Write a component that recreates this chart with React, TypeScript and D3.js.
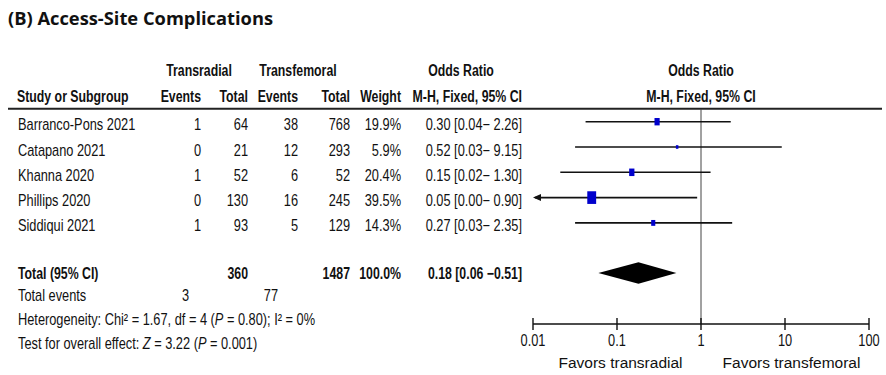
import React from "react";
import * as d3 from "d3";

const studies = ["Barranco-Pons 2021", "Catapano 2021", "Khanna 2020", "Phillips 2020", "Siddiqui 2021"];
const radialEvents = [1, 0, 1, 0, 1];
const radialTotal = [64, 21, 52, 130, 93];
const femoralEvents = [38, 12, 6, 16, 5];
const femoralTotal = [768, 293, 52, 245, 129];
const weights = [19.9, 5.9, 20.4, 39.5, 14.3];
const orValue = [0.3, 0.52, 0.15, 0.05, 0.27];
const orLower = [0.04, 0.03, 0.02, 0.0, 0.03];
const orUpper = [2.26, 9.15, 1.3, 0.9, 2.35];

const totalRadial = 360;
const totalFemoral = 1487;
const totalWeight = "100.0%";
const totalOR = [0.18, 0.06, 0.51];
const totalEventsRadial = 3;
const totalEventsFemoral = 77;

const axisTicks = [0.01, 0.1, 1, 10, 100];
const axisTickLabels = ["0.01", "0.1", "1", "10", "100"];

const FONT = "'Liberation Sans', Arial, sans-serif";
const SX = 0.8;
const SXB = 0.77;

function T(props: any) {
  const { x, y, anchor = "start", sx = SX, bold = false, size = 16, children, fill = "#111" } = props;
  return (
    <text
      transform={`translate(${x},${y}) scale(${sx},1)`}
      textAnchor={anchor}
      fontFamily={FONT}
      fontSize={size}
      fontWeight={bold ? "bold" : "normal"}
      fill={fill}
    >
      {children}
    </text>
  );
}

export default function App() {
  const W = 886, H = 375;
  const x = d3.scaleLog().domain([0.01, 100]).range([533, 869]);
  const rowY = (i: number) => 121.7 + 25.3 * i;
  const boxH = d3.scaleLinear().domain([0, 40]).range([2, 12.8]);
  const col = { e1: 201, t1: 248, e2: 298, t2: 350, w: 401, ci: 522 };
  const fmt = (v: number) => v.toFixed(2);
  const axisY = 324;
  const diamondY = 273;

  const diamond = d3.line()([
    [x(totalOR[1]), diamondY],
    [x(totalOR[0]), diamondY - 10.7],
    [x(totalOR[2]), diamondY],
    [x(totalOR[0]), diamondY + 10.7],
  ]) + "Z";

  return (
    <svg width={W} height={H} style={{ position: "absolute", left: 0, top: 0, background: "#fff" }}>
      <text x={8} y={25} fontFamily="'Open Sans', 'Noto Sans', sans-serif" fontWeight="bold" fontSize={17.5}
        textLength={265} lengthAdjust="spacingAndGlyphs" fill="#111">
        (B) Access-Site Complications
      </text>

      {/* headers */}
      <T x={199} y={76} anchor="middle" bold sx={SXB}>Transradial</T>
      <T x={298} y={76} anchor="middle" bold sx={SXB}>Transfemoral</T>
      <T x={461} y={76} anchor="middle" bold sx={SXB}>Odds Ratio</T>
      <T x={701} y={76} anchor="middle" bold sx={SXB}>Odds Ratio</T>
      <T x={17} y={102} bold sx={SXB}>Study or Subgroup</T>
      <T x={col.e1} y={102} anchor="end" bold sx={SXB}>Events</T>
      <T x={col.t1} y={102} anchor="end" bold sx={SXB}>Total</T>
      <T x={col.e2} y={102} anchor="end" bold sx={SXB}>Events</T>
      <T x={col.t2} y={102} anchor="end" bold sx={SXB}>Total</T>
      <T x={col.w} y={102} anchor="end" bold sx={SXB}>Weight</T>
      <T x={col.ci} y={102} anchor="end" bold sx={SXB}>M-H, Fixed, 95% CI</T>
      <T x={701} y={102} anchor="middle" bold sx={SXB}>M-H, Fixed, 95% CI</T>
      <line x1={8} x2={882} y1={108.7} y2={108.7} stroke="#222" strokeWidth={2} />

      {/* reference line */}
      <line x1={x(1)} x2={x(1)} y1={109} y2={axisY} stroke="#444" strokeWidth={1} />

      {/* rows */}
      {studies.map((s, i) => {
        const y = rowY(i);
        const ty = y + 8.5;
        const lo = orLower[i] < 0.01 ? 0.01 : orLower[i];
        const arrow = orLower[i] < 0.01;
        const h = boxH(weights[i]);
        const w = h * 0.7;
        return (
          <g key={s}>
            <T x={18} y={ty}>{s}</T>
            <T x={col.e1} y={ty} anchor="end">{radialEvents[i]}</T>
            <T x={col.t1} y={ty} anchor="end">{radialTotal[i]}</T>
            <T x={col.e2} y={ty} anchor="end">{femoralEvents[i]}</T>
            <T x={col.t2} y={ty} anchor="end">{femoralTotal[i]}</T>
            <T x={col.w} y={ty} anchor="end">{weights[i].toFixed(1)}%</T>
            <T x={col.ci} y={ty} anchor="end">{`${fmt(orValue[i])} [${fmt(orLower[i])}\u2212 ${fmt(orUpper[i])}]`}</T>
            <line x1={x(lo) + 2} x2={x(orUpper[i])} y1={y} y2={y} stroke="#111" strokeWidth={1.6} />
            {arrow && (
              <path d={`M${x(lo)},${y} l8,-3.5 l0,7 Z`} fill="#111" />
            )}
            <rect x={x(orValue[i]) - w / 2} y={y - h / 2} width={w} height={h} fill="#0000CC" />
          </g>
        );
      })}

      {/* total */}
      <T x={18} y={279} bold sx={SXB}>Total (95% CI)</T>
      <T x={col.t1} y={279} anchor="end" bold sx={SXB}>{totalRadial}</T>
      <T x={col.t2} y={279} anchor="end" bold sx={SXB}>{totalFemoral}</T>
      <T x={col.w} y={279} anchor="end" bold sx={SXB}>{totalWeight}</T>
      <T x={col.ci} y={279} anchor="end" bold sx={SXB}>{`${fmt(totalOR[0])} [${fmt(totalOR[1])} \u2212${fmt(totalOR[2])}]`}</T>
      <path d={diamond} fill="#000" />

      <T x={18} y={301}>Total events</T>
      <T x={col.e1 - 12} y={301} anchor="end">{totalEventsRadial}</T>
      <T x={col.e2 - 20} y={301} anchor="end">{totalEventsFemoral}</T>
      <T x={18} y={325}>
        Heterogeneity: Chi² = 1.67, df = 4 (<tspan fontStyle="italic">P</tspan> = 0.80); I² = 0%
      </T>
      <T x={18} y={349}>
        Test for overall effect: <tspan fontStyle="italic">Z</tspan> = 3.22 (<tspan fontStyle="italic">P</tspan> = 0.001)
      </T>

      {/* axis */}
      <line x1={x(0.01)} x2={x(100)} y1={axisY} y2={axisY} stroke="#111" strokeWidth={1.6} />
      {axisTicks.map((t, i) => (
        <g key={t}>
          <line x1={x(t)} x2={x(t)} y1={axisY - 6} y2={axisY + 6} stroke="#111" strokeWidth={1.4} />
          <T x={x(t)} y={346} anchor="middle">{axisTickLabels[i]}</T>
        </g>
      ))}
      <T x={620.5} y={368} anchor="middle" sx={1} size={15.5}>Favors transradial</T>
      <T x={791.5} y={368} anchor="middle" sx={1} size={15.5}>Favors transfemoral</T>
    </svg>
  );
}
